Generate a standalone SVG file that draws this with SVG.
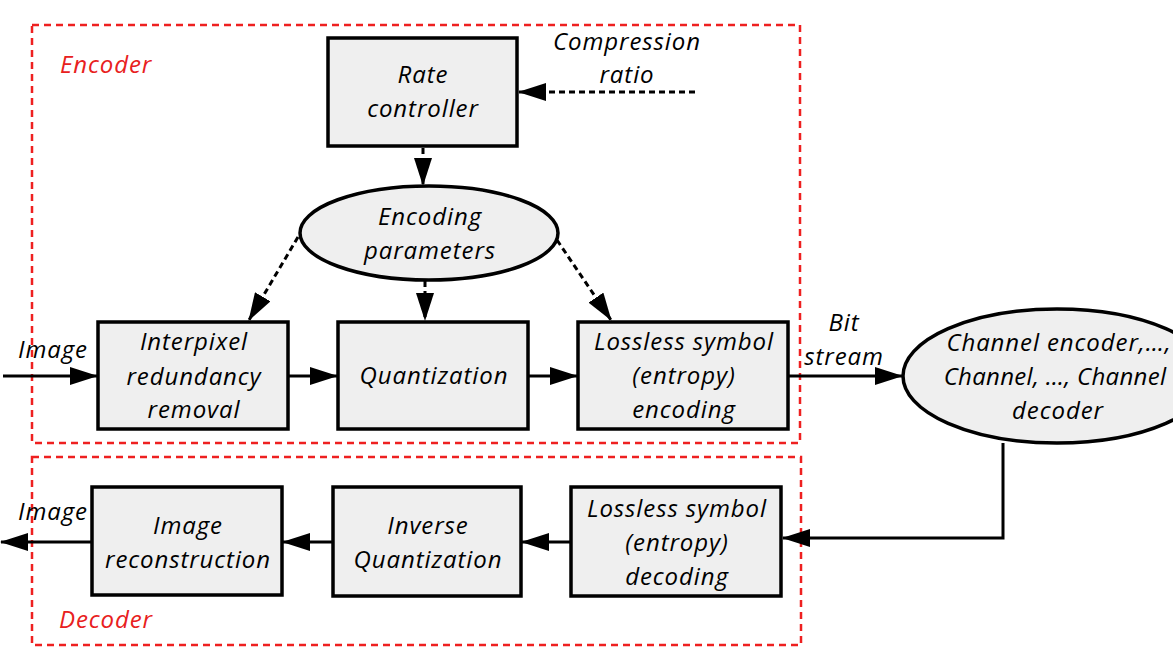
<svg xmlns="http://www.w3.org/2000/svg" width="1173" height="653" viewBox="0 0 1173 653">
<defs>
<marker id="ah" markerUnits="userSpaceOnUse" markerWidth="28" markerHeight="18" refX="27" refY="9" orient="auto"><path d="M0,0 L28,9 L0,18 z" fill="#000"/></marker>
<style>
text{font-family:"Open Sans","Liberation Sans",sans-serif;font-style:italic;font-size:24px;letter-spacing:0.9px;fill:#000;text-anchor:middle}
.red{fill:#e82020;text-anchor:start}
.box{fill:#efefef;stroke:#000;stroke-width:3.5}
.grp{fill:none;stroke:#ee2020;stroke-width:2.5;stroke-dasharray:7 5}
.sol{fill:none;stroke:#000;stroke-width:3;marker-end:url(#ah)}
.dsh{fill:none;stroke:#000;stroke-width:3;stroke-dasharray:6 4;marker-end:url(#ah)}
</style>
</defs>
<rect width="1173" height="653" fill="#fff"/>
<g id="encoder-group"><rect class="grp" x="32" y="25" width="768" height="418"/><text class="red" x="60" y="73">Encoder</text></g>
<g id="decoder-group"><rect class="grp" x="32" y="457" width="769" height="188"/><text class="red" x="59" y="628">Decoder</text></g>
<g id="rate-controller"><rect class="box" x="328" y="38" width="189" height="108"/><text x="423" y="83">Rate</text><text x="423" y="117">controller</text></g>
<g id="compression-ratio"><text x="627" y="50">Compression</text><text x="627" y="83">ratio</text></g>
<g id="encoding-parameters"><ellipse cx="429" cy="233" rx="129" ry="47" fill="#efefef" stroke="#000" stroke-width="3.5"/><text x="430" y="225">Encoding</text><text x="430" y="259">parameters</text></g>
<g id="interpixel"><rect class="box" x="98" y="322" width="190" height="107"/><text x="194" y="350">Interpixel</text><text x="194" y="385">redundancy</text><text x="194" y="418">removal</text></g>
<g id="quantization"><rect class="box" x="338" y="322" width="190" height="107"/><text x="434" y="384">Quantization</text></g>
<g id="lossless-encoding"><rect class="box" x="578" y="322" width="210" height="107"/><text x="684" y="350">Lossless symbol</text><text x="684" y="384">(entropy)</text><text x="684" y="418">encoding</text></g>
<g id="channel"><ellipse cx="1057" cy="376" rx="154" ry="67" fill="#efefef" stroke="#000" stroke-width="3.5"/><text x="1059" y="351">Channel encoder,…,</text><text x="1055" y="385" style="letter-spacing:0.3px">Channel, …, Channel</text><text x="1058" y="419">decoder</text></g>
<g id="lossless-decoding"><rect class="box" x="571" y="487" width="210" height="109"/><text x="677" y="517">Lossless symbol</text><text x="677" y="551">(entropy)</text><text x="677" y="585">decoding</text></g>
<g id="inverse-quantization"><rect class="box" x="333" y="487" width="188" height="109"/><text x="428" y="534">Inverse</text><text x="428" y="568">Quantization</text></g>
<g id="image-reconstruction"><rect class="box" x="92" y="487" width="190" height="108"/><text x="188" y="534">Image</text><text x="188" y="568">reconstruction</text></g>
<g id="labels"><text x="53" y="358">Image</text><text x="53" y="520">Image</text><text x="844" y="331">Bit</text><text x="844" y="365">stream</text></g>
<g id="connectors">
<path class="dsh" d="M695,92 L519,92"/>
<path class="dsh" d="M423,148 L423,185"/>
<path class="dsh" d="M298,237 L249,320"/>
<path class="dsh" d="M425,281 L425,320"/>
<path class="dsh" d="M557,240 L611,320"/>
<path class="sol" d="M3,376 L97,376"/>
<path class="sol" d="M288,376 L337,376"/>
<path class="sol" d="M528,376 L577,376"/>
<path class="sol" d="M788,376 L902,376"/>
<path class="sol" d="M1003,443 L1003,538 L783,538"/>
<path class="sol" d="M571,542 L522,542"/>
<path class="sol" d="M333,542 L283,542"/>
<path class="sol" d="M92,542 L1,542"/>
</g>
</svg>
